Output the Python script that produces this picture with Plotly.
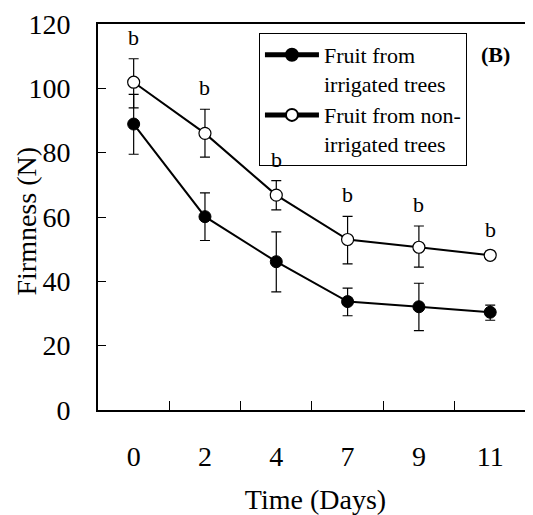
import plotly.graph_objects as go

days = ["0", "2", "4", "7", "9", "11"]
irrigated = [88.9, 60.1, 46.1, 33.7, 32.1, 30.4]
irrigated_err_up = [9.2, 7.4, 9.3, 4.2, 7.3, 2.2]
irrigated_err_down = [9.4, 7.4, 9.4, 4.4, 7.4, 2.5]
nonirrigated = [101.9, 86.0, 66.8, 53.0, 50.6, 48.1]
nonirrigated_err_up = [7.3, 7.5, 4.5, 7.2, 6.6, 1.2]
nonirrigated_err_down = [8.0, 7.4, 4.6, 7.6, 6.2, 1.2]
sig_labels = ["b", "b", "b", "b", "b", "b"]

FONT = "Liberation Serif"

fig = go.Figure()
fig.add_trace(go.Scatter(
    x=days, y=irrigated, mode="lines+markers",
    name="Fruit from<br>irrigated trees",
    line=dict(color="black", width=2),
    marker=dict(symbol="circle", size=12, color="black", line=dict(color="black", width=1)),
    error_y=dict(type="data", array=irrigated_err_up, arrayminus=irrigated_err_down,
                 color="black", thickness=1.2, width=5),
))
fig.add_trace(go.Scatter(
    x=days, y=nonirrigated, mode="lines+markers",
    name="Fruit from non-<br>irrigated trees",
    line=dict(color="black", width=2),
    marker=dict(symbol="circle", size=12, color="white", line=dict(color="black", width=1.2)),
    error_y=dict(type="data", array=nonirrigated_err_up, arrayminus=nonirrigated_err_down,
                 color="black", thickness=1.2, width=5),
))

for i, (v, e, lab) in enumerate(zip(nonirrigated, nonirrigated_err_up, sig_labels)):
    fig.add_annotation(x=i, y=v + e, text=lab, showarrow=False, xref="x", yref="y",
                       xanchor="center", yanchor="bottom", yshift=7,
                       font=dict(family=FONT, size=22, color="black"))

fig.add_annotation(x=0.913, y=0.92, xref="paper", yref="paper", text="<b>(B)</b>",
                   xanchor="center", yanchor="middle",
                   showarrow=False, font=dict(family=FONT, size=22, color="black"))

fig.add_annotation(x=-0.164, y=0.49, xref="paper", yref="paper", text="Firmness (N)",
                   textangle=-90, xanchor="center", yanchor="middle",
                   showarrow=False, font=dict(family=FONT, size=28, color="black"))

fig.update_layout(
    width=525, height=507,
    margin=dict(l=90, r=0, t=16, b=105),
    paper_bgcolor="white", plot_bgcolor="white",
    font=dict(family=FONT, size=28, color="black"),
    showlegend=True,
    legend=dict(x=0.370, y=0.977, xanchor="left", yanchor="top",
                bordercolor="black", borderwidth=1, bgcolor="white",
                font=dict(family=FONT, size=22, color="black"),
                valign="top", tracegroupgap=0, itemsizing="constant", itemwidth=54),
    xaxis=dict(
        type="category", categoryorder="array", categoryarray=days,
        range=[-0.5, 5.6], automargin=False,
        showline=True, linecolor="black", linewidth=2, mirror=True,
        ticks="inside", tickson="boundaries", ticklen=9, tickwidth=1, tickcolor="black",
        showgrid=False, zeroline=False,
        ticklabelstandoff=20,
        title=dict(text="Time (Days)", font=dict(family=FONT, size=28), standoff=21),
    ),
    yaxis=dict(
        range=[0, 120], tickvals=[0, 20, 40, 60, 80, 100, 120], automargin=False,
        showline=True, linecolor="black", linewidth=2,
        ticks="inside", ticklen=8, tickwidth=1, tickcolor="black",
        showgrid=False, zeroline=False,
        ticklabelstandoff=20,
    ),
)

fig.write_html("out.html")
